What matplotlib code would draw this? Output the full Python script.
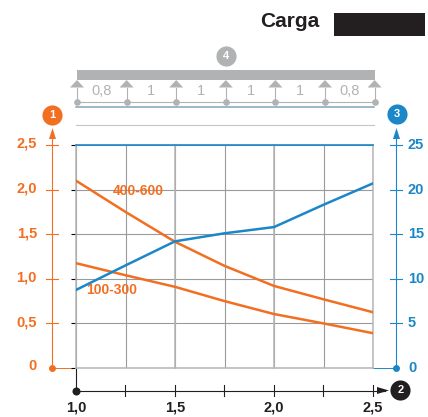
import matplotlib
matplotlib.use("Agg")
import matplotlib.pyplot as plt
from matplotlib.patches import Rectangle, Polygon

plt.rcParams['font.family'] = ['Liberation Sans', 'DejaVu Sans']

ORANGE = "#f26f21"
BLUE = "#1b87c9"
GRAY = "#b1b2b4"
GRID = "#9a9a9a"
BLACK = "#231f20"

x_vals = [1.0, 1.25, 1.5, 1.75, 2.0, 2.25, 2.5]
upper_orange = [2.10, 1.75, 1.415, 1.145, 0.92, 0.77, 0.625]
lower_orange = [1.175, 1.04, 0.91, 0.75, 0.605, 0.50, 0.39]
blue_line = [8.75, 11.5, 14.2, 15.1, 15.8, 18.3, 20.7]

left_ticks = [0, 0.5, 1.0, 1.5, 2.0, 2.5]
left_labels = ["0", "0,5", "1,0", "1,5", "2,0", "2,5"]
right_ticks = [0, 5, 10, 15, 20, 25]
x_ticks = [1.0, 1.25, 1.5, 1.75, 2.0, 2.25, 2.5]
x_labels = {1.0: "1,0", 1.5: "1,5", 2.0: "2,0", 2.5: "2,5"}
span_labels = ["0,8", "1", "1", "1", "1", "0,8"]

W, H = 428, 417
fig = plt.figure(figsize=(W / 100, H / 100), dpi=100)

# overlay in pixel coords for the decorations
deco = fig.add_axes([0, 0, 1, 1])
deco.set_xlim(0, W)
deco.set_ylim(H, 0)
deco.axis("off")

# main plot area
x0, x1, y_top, y_bot = 76, 373, 145, 368
ax = fig.add_axes([x0 / W, 1 - y_bot / H, (x1 - x0) / W, (y_bot - y_top) / H])
ax.patch.set_alpha(0)
ax.set_xlim(1.0, 2.5)
ax.set_ylim(0, 2.5)
for s in ax.spines.values():
    s.set_visible(False)
ax.set_xticks(x_ticks)
ax.set_yticks(left_ticks)
ax.tick_params(left=False, bottom=False, labelleft=False, labelbottom=False)
ax.grid(True, color=GRID, lw=0.8)
for v in [1.0, 1.5, 2.0, 2.5]:
    ax.axvline(v, color="#b5b5b5", lw=1.1, clip_on=False)
ax.axhline(2.5, color=BLUE, lw=1.2, clip_on=False, zorder=3)
ax.axhline(0, color="#b5b5b5", lw=1.1, clip_on=False)

ax.plot(x_vals, upper_orange, color=ORANGE, lw=1.8, zorder=5)
ax.plot(x_vals, lower_orange, color=ORANGE, lw=1.8, zorder=5)

ax2 = ax.twinx()
ax2.set_ylim(0, 25)
ax2.axis("off")
ax2.plot(x_vals, blue_line, color=BLUE, lw=1.8, zorder=4)

ax.text(1.313, 1.98, "400-600", color=ORANGE, fontsize=10, fontweight="bold", ha="center", va="center", zorder=6)
ax.text(1.18, 0.875, "100-300", color=ORANGE, fontsize=10, fontweight="bold", ha="center", va="center", zorder=6)


def y_px(frac):
    return y_bot - frac * (y_bot - y_top)


def badge(x, y, color, txt):
    deco.plot([x], [y], "o", ms=14.5, color=color, mew=0, zorder=6)
    deco.text(x, y + 0.3, txt, color="white", fontsize=8, fontweight="bold", ha="center", va="center", zorder=7)


# left axis
lx = 52.5
deco.plot([lx, lx], [135, y_bot], color=ORANGE, lw=0.8)
deco.add_patch(Polygon([[lx - 3.5, 139], [lx + 3.5, 139], [lx, 128]], color=ORANGE, lw=0))
deco.plot([lx], [y_bot], "o", ms=5, color=ORANGE, mew=0)
deco.plot([lx, x0], [y_bot, y_bot], color=ORANGE, lw=0.7)
for t, lab in zip(left_ticks, left_labels):
    y = y_px(t / 2.5)
    if t > 0:
        deco.plot([lx - 6, lx + 6], [y, y], color=ORANGE, lw=0.8)
    deco.text(37, y - (2.5 if t == 0 else 1), lab, color=ORANGE, fontsize=10.5, fontweight="bold", ha="right", va="center")
badge(52.5, 114.5, ORANGE, "1")

# right axis
rx = 396.5
deco.plot([rx, rx], [135, y_bot], color=BLUE, lw=0.8)
deco.add_patch(Polygon([[rx - 3.5, 139], [rx + 3.5, 139], [rx, 128]], color=BLUE, lw=0))
deco.plot([rx], [y_bot], "o", ms=5, color=BLUE, mew=0)
deco.plot([x1, rx], [y_bot, y_bot], color=BLUE, lw=0.7)
for t in right_ticks:
    y = y_px(t / 25)
    if t > 0:
        deco.plot([rx - 6, rx + 6], [y, y], color=BLUE, lw=0.8)
    deco.text(408, y, str(t), color=BLUE, fontsize=10.5, fontweight="bold", ha="left", va="center")
badge(397, 114, BLUE, "3")

# bottom axis
by = 390.5
deco.plot([x0, x0], [y_bot, by], color=BLACK, lw=0.8)
deco.plot([x0, 385], [by, by], color=BLACK, lw=0.8)
deco.add_patch(Polygon([[377, by - 3.5], [377, by + 3.5], [389, by]], color=BLACK, lw=0))
deco.plot([x0], [by], "o", ms=5.8, color=BLACK, mew=0)
for t in x_ticks:
    x = x0 + (t - 1.0) / 1.5 * (x1 - x0)
    if t > 1.0:
        deco.plot([x, x], [by - 5.5, by + 5.5], color=BLACK, lw=0.8)
    if t in x_labels:
        deco.text(x, 407.5, x_labels[t], color=BLACK, fontsize=10.5, fontweight="bold", ha="center", va="center")
badge(400.5, 390, BLACK, "2")

# beam on top
deco.add_patch(Rectangle((77, 70), 298, 10, color=GRAY, lw=0))
supports = [77 + i * 49.6 for i in range(7)]
deco.plot([76, 375], [101.5, 101.5], color=GRAY, lw=0.8)
for sx in supports:
    deco.add_patch(Polygon([[sx, 80], [sx - 7, 87.5], [sx + 7, 87.5]], color=GRAY, lw=0))
    deco.plot([sx, sx], [87.5, 101.5], color=GRAY, lw=0.8)
    deco.plot([sx], [101.5], "o", ms=4.8, color=GRAY, mew=0)
for i, lab in enumerate(span_labels):
    deco.text((supports[i] + supports[i + 1]) / 2, 91, lab, color=GRAY, fontsize=10.5, ha="center", va="center")
badge(226.5, 55.5, GRAY, "4")
deco.plot([76, 374], [107, 107], color="#7fa6bd", lw=1.1)
deco.plot([76, 374], [124.5, 124.5], color="#c4c4c4", lw=0.8)

# title and blacked out box
deco.text(290, 21, "Carga", color=BLACK, fontsize=15, fontweight="bold", ha="center", va="center")
deco.add_patch(Rectangle((334, 13), 91, 23, color=BLACK, lw=0))

fig.savefig("out.png", dpi=100)
